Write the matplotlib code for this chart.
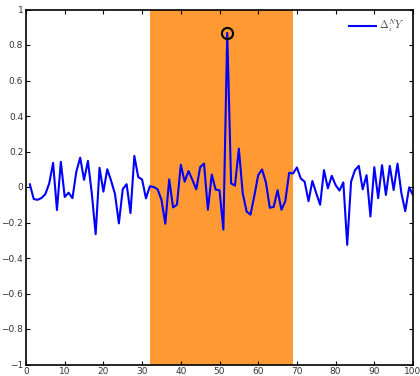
import numpy as np
import matplotlib
matplotlib.use("Agg")
import matplotlib.pyplot as plt

plt.rcParams["mathtext.fontset"] = "cm"

x = list(range(1, 101))
y = [0.015, -0.068, -0.072, -0.062, -0.04, 0.02, 0.136, -0.13, 0.142, -0.056,
     -0.032, -0.063, 0.086, 0.165, 0.04, 0.147, -0.035, -0.266, 0.108, -0.026,
     0.1, 0.035, -0.04, -0.205, -0.012, 0.016, -0.147, 0.175, 0.056, 0.042,
     -0.064, 0.004, 0.0, -0.013, -0.072, -0.207, 0.043, -0.115, -0.1, 0.125,
     0.03, 0.09, 0.04, -0.013, 0.112, 0.132, -0.128, 0.07, -0.015, -0.018,
     -0.24, 0.868, 0.02, 0.008, 0.216, -0.035, -0.138, -0.156, -0.05, 0.067,
     0.099, 0.025, -0.117, -0.112, -0.018, -0.128, -0.08, 0.08, 0.076, 0.11,
     0.048, 0.03, -0.08, 0.034, -0.035, -0.1, 0.095, -0.007, 0.063, 0.011,
     -0.02, 0.026, -0.326, 0.03, 0.095, 0.119, -0.013, 0.067, -0.166, 0.112,
     -0.063, 0.123, -0.045, 0.119, -0.017, 0.132, -0.035, -0.136, -0.002, -0.046]
span_start, span_end = 32, 69
peak_x, peak_y = 52, 0.868
label = r"$\Delta_i^N Y$"

fig = plt.figure(figsize=(4.2, 3.76), dpi=100)
ax = fig.add_axes([26/420, 11.5/376, 387/420, 355/376])
ax.axvspan(span_start, span_end, color="#FF9933", lw=0, zorder=0)
ax.plot(x, y, color="#0000FF", lw=1.5, label=label, zorder=2)
ax.plot([peak_x], [peak_y], marker="o", ms=8, mfc="none", mec="black", mew=1.5, zorder=3)

ax.set_xlim(0, 100)
ax.set_ylim(-1, 1)
ax.set_xticks(np.arange(0, 101, 10))
ax.set_yticks(np.round(np.arange(-1, 1.01, 0.2), 1))
ax.set_yticklabels(["\u22121", "\u22120.8", "\u22120.6", "\u22120.4", "\u22120.2", "0",
                    "0.2", "0.4", "0.6", "0.8", "1"])
ax.tick_params(direction="in", length=3, width=0.8, labelsize=6.5, top=True, right=True,
               colors="black", labelcolor="#333333", pad=2)
for s in ax.spines.values():
    s.set_linewidth(1.2)
leg = ax.legend(loc="upper right", frameon=False, fontsize=7.5, handlelength=2.6,
                borderaxespad=0.4, handletextpad=0.3)
for t in leg.get_texts():
    t.set_color("#444444")
fig.savefig("out.png", dpi=100)
